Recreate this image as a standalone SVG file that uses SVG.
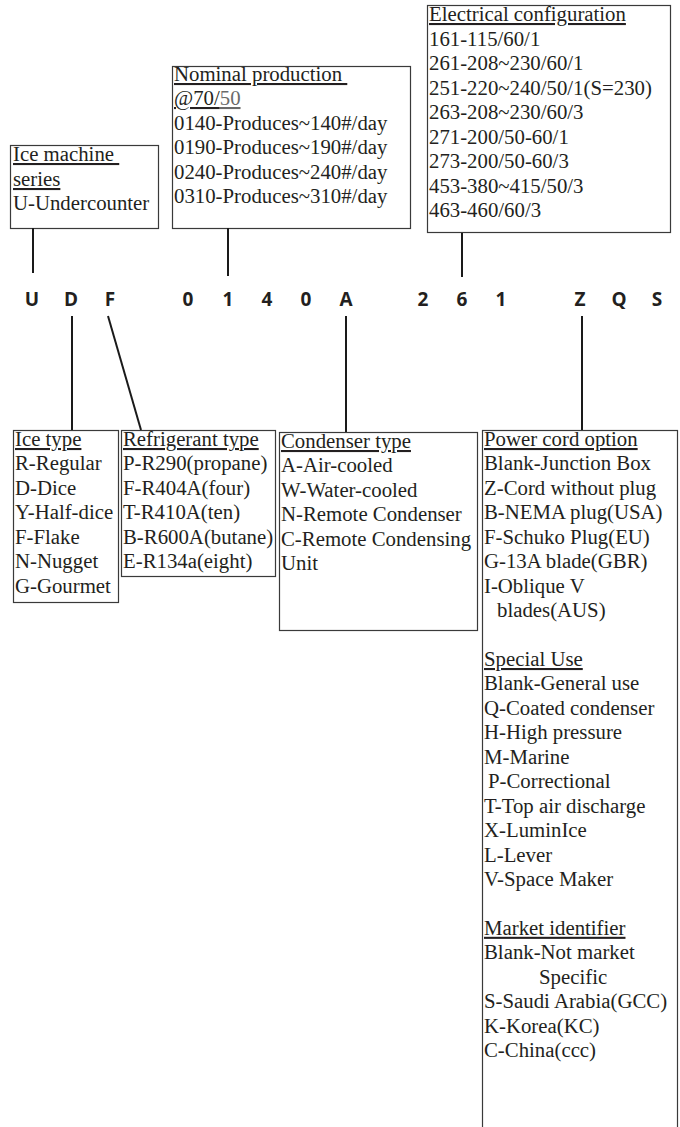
<svg xmlns="http://www.w3.org/2000/svg" width="680" height="1127" viewBox="0 0 680 1127">
<style>
.bg{fill:#ffffff}
.box{fill:none;stroke:#3a3a3a;stroke-width:1.2}
.t{font-family:"Liberation Serif","Times New Roman",serif;font-size:20.8px;fill:#231f20}
.u{text-decoration:underline}
.g{fill:#6a6a6a}
.code{font-family:"Open Sans","Noto Sans",sans-serif;font-weight:700;font-size:19px;fill:#231f20;text-anchor:middle}
.conn line{stroke:#1a1a1a;stroke-width:2}
</style>
<rect class="bg" x="0" y="0" width="680" height="1127"/>

<g id="series">
<rect class="box" x="10.5" y="145.5" width="148" height="83"/>
<text class="t" x="13" y="161"><tspan class="u">Ice machine&#160;</tspan></text>
<text class="t" x="13" y="186"><tspan class="u">series</tspan></text>
<text class="t" x="13" y="210">U-Undercounter</text>
</g>

<g id="production">
<rect class="box" x="172.5" y="66.5" width="238" height="162"/>
<text class="t" x="174" y="81"><tspan class="u">Nominal production&#160;</tspan></text>
<text class="t" x="174" y="105"><tspan class="u">@70/</tspan><tspan class="u g">50</tspan></text>
<text class="t" x="174" y="130">0140-Produces~140#/day</text>
<text class="t" x="174" y="154">0190-Produces~190#/day</text>
<text class="t" x="174" y="179">0240-Produces~240#/day</text>
<text class="t" x="174" y="203">0310-Produces~310#/day</text>
</g>

<g id="electrical">
<rect class="box" x="427.5" y="5.5" width="243" height="227"/>
<text class="t" x="429" y="21"><tspan class="u">Electrical configuration</tspan></text>
<text class="t" x="429" y="46">161-115/60/1</text>
<text class="t" x="429" y="70">261-208~230/60/1</text>
<text class="t" x="429" y="95">251-220~240/50/1(S=230)</text>
<text class="t" x="429" y="119">263-208~230/60/3</text>
<text class="t" x="429" y="144">271-200/50-60/1</text>
<text class="t" x="429" y="168">273-200/50-60/3</text>
<text class="t" x="429" y="193">453-380~415/50/3</text>
<text class="t" x="429" y="217">463-460/60/3</text>
</g>

<g id="code">
<text class="code" x="32" y="306">U</text>
<text class="code" x="71" y="306">D</text>
<text class="code" x="110" y="306">F</text>
<text class="code" x="188" y="306">0</text>
<text class="code" x="228" y="306">1</text>
<text class="code" x="267" y="306">4</text>
<text class="code" x="306" y="306">0</text>
<text class="code" x="346" y="306">A</text>
<text class="code" x="423" y="306">2</text>
<text class="code" x="462" y="306">6</text>
<text class="code" x="501" y="306">1</text>
<text class="code" x="580" y="306">Z</text>
<text class="code" x="619" y="306">Q</text>
<text class="code" x="657" y="306">S</text>
</g>

<g id="connectors" class="conn">
<line x1="33" y1="228" x2="33" y2="273"/>
<line x1="228" y1="228" x2="228" y2="276"/>
<line x1="462" y1="233" x2="462" y2="277"/>
<line x1="72" y1="316" x2="72" y2="430"/>
<line x1="108" y1="316" x2="141" y2="430"/>
<line x1="346" y1="316" x2="346" y2="432"/>
<line x1="582" y1="316" x2="582" y2="430"/>
</g>

<g id="icetype">
<rect class="box" x="13.5" y="430.5" width="105" height="172"/>
<text class="t" x="15" y="446"><tspan class="u">Ice type</tspan></text>
<text class="t" x="15" y="470">R-Regular</text>
<text class="t" x="15" y="495">D-Dice</text>
<text class="t" x="15" y="519">Y-Half-dice</text>
<text class="t" x="15" y="544">F-Flake</text>
<text class="t" x="15" y="568">N-Nugget</text>
<text class="t" x="15" y="593">G-Gourmet</text>
</g>

<g id="refrigerant">
<rect class="box" x="121.5" y="430.5" width="154" height="146"/>
<text class="t" x="123" y="446"><tspan class="u">Refrigerant type</tspan></text>
<text class="t" x="123" y="470">P-R290(propane)</text>
<text class="t" x="123" y="495">F-R404A(four)</text>
<text class="t" x="123" y="519">T-R410A(ten)</text>
<text class="t" x="123" y="544">B-R600A(butane)</text>
<text class="t" x="123" y="568">E-R134a(eight)</text>
</g>

<g id="condenser">
<rect class="box" x="279.5" y="432.5" width="198" height="198"/>
<text class="t" x="281" y="448"><tspan class="u">Condenser type</tspan></text>
<text class="t" x="281" y="472">A-Air-cooled</text>
<text class="t" x="281" y="497">W-Water-cooled</text>
<text class="t" x="281" y="521">N-Remote Condenser</text>
<text class="t" x="281" y="546">C-Remote Condensing</text>
<text class="t" x="281" y="570">Unit</text>
</g>

<g id="powercord">
<rect class="box" x="482.5" y="430.5" width="195" height="720"/>
<text class="t" x="484" y="446"><tspan class="u">Power cord option</tspan></text>
<text class="t" x="484" y="470.4">Blank-Junction Box</text>
<text class="t" x="484" y="494.9">Z-Cord without plug</text>
<text class="t" x="484" y="519.3">B-NEMA plug(USA)</text>
<text class="t" x="484" y="543.8">F-Schuko Plug(EU)</text>
<text class="t" x="484" y="568.2">G-13A blade(GBR)</text>
<text class="t" x="484" y="592.6">I-Oblique V</text>
<text class="t" x="497" y="617.1">blades(AUS)</text>
<text class="t" x="484" y="666"><tspan class="u">Special Use</tspan></text>
<text class="t" x="484" y="690.4">Blank-General use</text>
<text class="t" x="484" y="714.8">Q-Coated condenser</text>
<text class="t" x="484" y="739.3">H-High pressure</text>
<text class="t" x="484" y="763.7">M-Marine</text>
<text class="t" x="488" y="788.2">P-Correctional</text>
<text class="t" x="484" y="812.6">T-Top air discharge</text>
<text class="t" x="484" y="837">X-LuminIce</text>
<text class="t" x="484" y="861.5">L-Lever</text>
<text class="t" x="484" y="885.9">V-Space Maker</text>
<text class="t" x="484" y="934.8"><tspan class="u">Market identifier</tspan></text>
<text class="t" x="484" y="959.2">Blank-Not market</text>
<text class="t" x="539" y="983.7">Specific</text>
<text class="t" x="484" y="1008.1">S-Saudi Arabia(GCC)</text>
<text class="t" x="484" y="1032.6">K-Korea(KC)</text>
<text class="t" x="484" y="1057">C-China(ccc)</text>
</g>
</svg>
